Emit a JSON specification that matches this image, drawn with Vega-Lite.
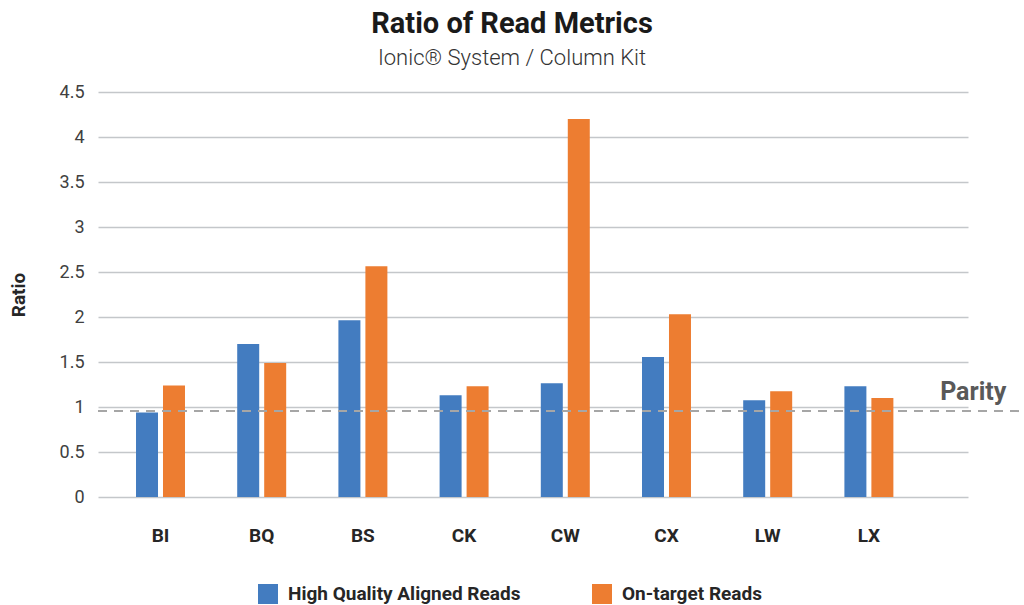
{
  "$schema": "https://vega.github.io/schema/vega-lite/v6.json",
  "width": 870,
  "height": 405,
  "autosize": {"type": "none"},
  "padding": {"left": 98, "top": 92, "right": 56, "bottom": 108},
  "background": "white",
  "config": {"font": "Roboto", "view": {"stroke": null}},
  "title": {
    "text": "Ratio of Read Metrics",
    "subtitle": "Ionic® System / Column Kit",
    "fontSize": 29,
    "fontWeight": "bold",
    "color": "#1a1a1a",
    "subtitleFontSize": 22,
    "subtitleColor": "#333333",
    "subtitleFontWeight": 300,
    "anchor": "middle",
    "dx": -21,
    "offset": 14,
    "subtitlePadding": 9
  },
  "datasets": {
    "metrics": [
      {"sample": "BI", "metric": "High Quality Aligned Reads", "ratio": 0.94},
      {"sample": "BI", "metric": "On-target Reads", "ratio": 1.24},
      {"sample": "BQ", "metric": "High Quality Aligned Reads", "ratio": 1.70},
      {"sample": "BQ", "metric": "On-target Reads", "ratio": 1.49},
      {"sample": "BS", "metric": "High Quality Aligned Reads", "ratio": 1.965},
      {"sample": "BS", "metric": "On-target Reads", "ratio": 2.565},
      {"sample": "CK", "metric": "High Quality Aligned Reads", "ratio": 1.13},
      {"sample": "CK", "metric": "On-target Reads", "ratio": 1.23},
      {"sample": "CW", "metric": "High Quality Aligned Reads", "ratio": 1.265},
      {"sample": "CW", "metric": "On-target Reads", "ratio": 4.20},
      {"sample": "CX", "metric": "High Quality Aligned Reads", "ratio": 1.555},
      {"sample": "CX", "metric": "On-target Reads", "ratio": 2.03},
      {"sample": "LW", "metric": "High Quality Aligned Reads", "ratio": 1.075},
      {"sample": "LW", "metric": "On-target Reads", "ratio": 1.175},
      {"sample": "LX", "metric": "High Quality Aligned Reads", "ratio": 1.23},
      {"sample": "LX", "metric": "On-target Reads", "ratio": 1.10}
    ],
    "parity": [
      {"ratio": 0.955, "label": "Parity"}
    ]
  },
  "layer": [
    {
      "data": {"name": "metrics"},
      "mark": {"type": "bar"},
      "encoding": {
        "x": {
          "field": "sample",
          "type": "nominal",
          "sort": null,
          "scale": {"paddingInner": 0.516, "paddingOuter": 0.5565, "align": 0.3375},
          "axis": {
            "title": null,
            "labelFontSize": 19,
            "labelFontWeight": "bold",
            "labelColor": "#262626",
            "labelPadding": 29,
            "ticks": false,
            "domain": false,
            "labelAngle": 0,
            "grid": false
          }
        },
        "xOffset": {
          "field": "metric",
          "type": "nominal",
          "sort": ["High Quality Aligned Reads", "On-target Reads"],
          "scale": {"paddingInner": 0.185, "paddingOuter": 0}
        },
        "y": {
          "field": "ratio",
          "type": "quantitative",
          "scale": {"domain": [0, 4.5], "nice": false},
          "axis": {
            "title": "Ratio",
            "titleFontSize": 19,
            "titleFontWeight": "bold",
            "titleColor": "#262626",
            "titlePadding": 31,
            "values": [0, 0.5, 1, 1.5, 2, 2.5, 3, 3.5, 4, 4.5],
            "format": "~g",
            "labelFontSize": 18,
            "labelColor": "#404040",
            "labelPadding": 14,
            "ticks": false,
            "domain": false,
            "gridColor": "#c4c7ca",
            "gridWidth": 1.5
          }
        },
        "color": {
          "field": "metric",
          "type": "nominal",
          "scale": {
            "domain": ["High Quality Aligned Reads", "On-target Reads"],
            "range": ["#437CC0", "#ED7D31"]
          },
          "legend": {
            "orient": "none",
            "legendX": 160,
            "legendY": 492,
            "direction": "horizontal",
            "title": null,
            "symbolType": "square",
            "symbolSize": 400,
            "symbolStrokeWidth": 0,
            "symbolOpacity": 1,
            "labelFontSize": 19,
            "labelFontWeight": "bold",
            "labelColor": "#262626",
            "labelOffset": 10,
            "labelLimit": 0,
            "columnPadding": 71
          }
        }
      }
    },
    {
      "data": {"name": "parity"},
      "mark": {"type": "rule", "strokeDash": [9, 7], "color": "#a6a6a6", "strokeWidth": 2},
      "encoding": {
        "x": {"datum": 0, "type": "quantitative", "scale": {"domain": [0, 1]}, "axis": null},
        "x2": {"datum": 1.0644},
        "y": {"field": "ratio", "type": "quantitative"}
      }
    },
    {
      "data": {"name": "parity"},
      "mark": {"type": "text", "fontSize": 25, "fontWeight": "bold", "color": "#595959", "baseline": "bottom", "align": "center", "dy": -6},
      "encoding": {
        "x": {"datum": 1.006, "type": "quantitative", "scale": {"domain": [0, 1]}, "axis": null},
        "y": {"field": "ratio", "type": "quantitative"},
        "text": {"field": "label"}
      }
    }
  ],
  "resolve": {"scale": {"x": "independent"}}
}
